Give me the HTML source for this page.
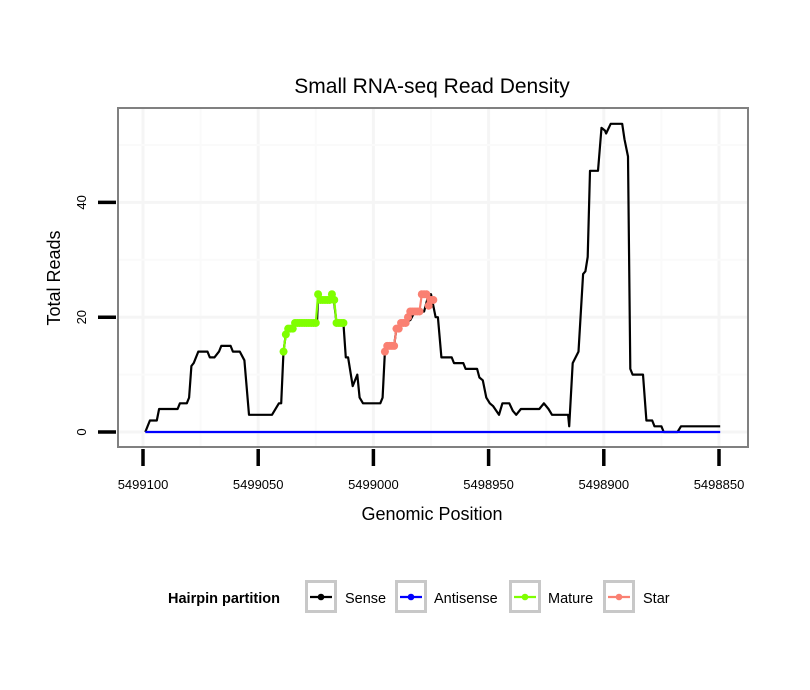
<!DOCTYPE html>
<html><head><meta charset="utf-8"><style>
html,body{margin:0;padding:0;background:#fff;}
svg{display:block;font-family:"Liberation Sans",Arial,sans-serif;}
</style></head><body>
<svg id="chart" width="810" height="690" viewBox="0 0 810 690">
<text x="432" y="93" font-size="21" text-anchor="middle">Small RNA-seq Read Density</text>
<rect x="118" y="108" width="630" height="339" fill="#fff" stroke="none"/>
<g id="grid"></g>
<g id="series"></g>
<rect x="118" y="108" width="630" height="339" fill="none" stroke="#808080" stroke-width="2"/>
<g id="axes"></g>
<text x="432" y="520" font-size="18" text-anchor="middle">Genomic Position</text>
<text transform="translate(60,278) rotate(-90)" font-size="18" text-anchor="middle">Total Reads</text>
<g>
<text x="168" y="603" font-size="14.5" font-weight="bold">Hairpin partition</text>
<g id="legend"></g>
</g>
</svg>
<script>
const senseOffsets=[1,3,6,7,15,16,19,20,21,22,24,28,29,31,33,34,38,39,42,44,46,56,59,60,61,62,64,67,75.5,76,78,81,82,83,84,87,88,89,91,93,94,95.5,103,104,105,106,109,110,112,116,118,122,124,125,126,127,128,129.5,131,134,135,139,140,145,146,147.5,149,150.5,152,154.5,156,159,160.5,162,164,172,174,176,177.5,184.5,185,186.5,189,191,192,193,194,197.5,199,200.5,201,203,208,209,210.5,211.5,212.5,217,218.5,221,222,225,226,232,233.5,250.5];
const senseReads=[0,2,2,4,4,5,5,6,11.5,12,14,14,13,13,14,15,15,14,14,12.5,3,3,5,5,14,17,18,19,19,24,23,23,24,22.5,19,19,13,13,8,10,6,5,5,6,14,15,15,18,19,19.5,21,21,24,24,22,20,20,13,13,13,12,12,11,11,9.5,9,6,5,4.5,3,5,5,3.7,3,4,4,5,4,3,3,1,12,14,27.5,28,30.5,45.5,45.5,53,52.5,52,53.7,53.7,51,48,11,10,10,2,2,1,1,0,0,1,1];
const antiOffsets=[1,250.5];
const antiReads=[0,0];
const matureOffsets=[61,62,63,64,65,66,67,68,69,70,71,72,73,74,75,76,77,78,79,80,81,82,83,84,85,86,87];
const matureReads=[14,17,18,18,18,19,19,19,19,19,19,19,19,19,19,24,23,23,23,23,23,24,23,19,19,19,19];
const starOffsets=[105,106,107,108,109,110,111,112,113,114,115,116,117,118,119,120,121,122,123,124,125,126];
const starReads=[14,15,15,15,15,18,18,19,19,19,20,21,21,21,21,21,24,24,24,22,23,23];
const xTicks=[5499100,5499050,5499000,5498950,5498900,5498850];
const yTicks=[0,20,40];
const base=5499100;
const NS='http://www.w3.org/2000/svg';
function X(pos){return 143+(base-pos)*2.304;}
function Y(r){return 432-r*5.74;}
function mk(tag,attrs,parent){const e=document.createElementNS(NS,tag);for(const k in attrs)e.setAttribute(k,attrs[k]);parent.appendChild(e);return e;}
const grid=document.getElementById('grid'),series=document.getElementById('series'),axes=document.getElementById('axes'),legend=document.getElementById('legend');
for(let i=0;i<xTicks.length;i++){const gx=X(xTicks[i]);const l=mk('line',{x1:gx,x2:gx,y1:109,y2:446,stroke:'#f5f5f5','stroke-width':3},grid);


if(i<xTicks.length-1){const mx=X((xTicks[i]+xTicks[i+1])/2);const m=mk('line',{x1:mx,x2:mx,y1:109,y2:446,stroke:'#fafafa','stroke-width':2},grid);

}}
for(let v=0;v<=50;v+=10){const gy=Y(v);const l=mk('line',{x1:119,x2:747,y1:gy,y2:gy,stroke:v%20===0?'#f5f5f5':'#fafafa','stroke-width':v%20===0?3:2},grid);

}
function line(offs,vals,color,name){const pts=offs.map((o,i)=>X(base-o).toFixed(1)+','+Y(vals[i]).toFixed(1)).join(' ');const p=mk('polyline',{points:pts,fill:'none',stroke:color,'stroke-width':2.2,'stroke-linejoin':'round'},series);

}
line(senseOffsets,senseReads,'#000','sense-line');
line(antiOffsets,antiReads,'#0000ff','antisense-line');
function pts(offs,vals,color,name){line(offs,vals,color,name+'-line');offs.forEach((o,i)=>{const c=mk('circle',{cx:X(base-o),cy:Y(vals[i]),r:4,fill:color},series);

});}
pts(matureOffsets,matureReads,'#7fff00','mature');
pts(starOffsets,starReads,'#fa8072','star');
xTicks.forEach(t=>{const x=X(t);const l=mk('line',{x1:x,x2:x,y1:449,y2:466,stroke:'#000','stroke-width':3.5},axes);


const tx=mk('text',{x:x,y:489,'font-size':13,'text-anchor':'middle'},axes);tx.textContent=t;

});
yTicks.forEach(t=>{const y=Y(t);const l=mk('line',{x1:98,x2:116,y1:y,y2:y,stroke:'#000','stroke-width':3.5},axes);


const tx=mk('text',{transform:`translate(86,${y}) rotate(-90)`,'font-size':13,'text-anchor':'middle'},axes);tx.textContent=t;

});
const leg=[['Sense','#000',305,345],['Antisense','#0000ff',395,434],['Mature','#7fff00',509,548],['Star','#fa8072',603,643]];
leg.forEach(([n,c,bx,tx])=>{const g=mk('g',{},legend);


mk('rect',{x:bx+1.5,y:581.5,width:29,height:30,fill:'#fff',stroke:'#c8c8c8','stroke-width':3},g);
mk('line',{x1:bx+5,x2:bx+27,y1:597,y2:597,stroke:c,'stroke-width':2.2},g);
mk('circle',{cx:bx+16,cy:597,r:3.3,fill:c},g);
const t=mk('text',{x:tx,y:603,'font-size':14.5},g);t.textContent=n;});
</script>
</body></html>
